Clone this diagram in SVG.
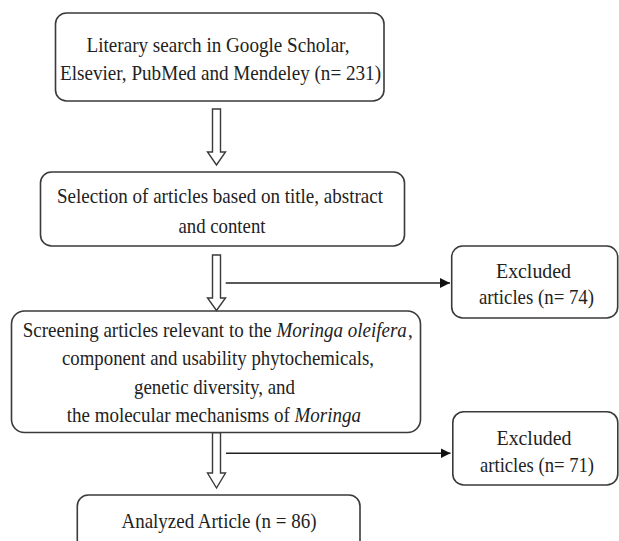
<svg xmlns="http://www.w3.org/2000/svg" width="619" height="541" viewBox="0 0 619 541">
<defs>
<style>
.box{fill:#fff;stroke:#3a3a3a;stroke-width:1.6}
.t{font-family:"Liberation Serif","Times New Roman",serif;font-size:21px;fill:#222;text-anchor:middle}
.n{font-family:"Liberation Serif","Times New Roman",serif;font-size:19px;fill:#222;text-anchor:start}
.i{font-style:italic}
.conn{stroke:#222;stroke-width:1.6;fill:none}
.hollow{fill:#fff;stroke:#3a3a3a;stroke-width:1.4}
</style>
<marker id="ah" markerUnits="userSpaceOnUse" markerWidth="11" markerHeight="11" refX="10" refY="5" orient="auto">
<path d="M0,0 L10,5 L0,10 Z" fill="#111"/>
</marker>
</defs>
<rect width="619" height="541" fill="#fff"/>

<g id="search">
<rect class="box" x="55.5" y="13" width="328.5" height="88" rx="11"/>
<text class="t" x="218" y="51.5" textLength="263" lengthAdjust="spacingAndGlyphs">Literary search in Google Scholar,</text>
<text class="t" x="220.5" y="80" textLength="321" lengthAdjust="spacingAndGlyphs">Elsevier, PubMed and Mendeley (n= 231)</text>
</g>

<g id="selection">
<rect class="box" x="40.5" y="172" width="364" height="74" rx="11"/>
<text class="t" x="220" y="203" textLength="326" lengthAdjust="spacingAndGlyphs">Selection of articles based on title, abstract</text>
<text class="t" x="222" y="233" textLength="87" lengthAdjust="spacingAndGlyphs">and content</text>
</g>

<g id="excluded1">
<rect class="box" x="451.7" y="246" width="166" height="72" rx="11"/>
<text class="t" x="533.5" y="278" textLength="75" lengthAdjust="spacingAndGlyphs">Excluded</text>
<text class="t" x="536.5" y="304" textLength="115" lengthAdjust="spacingAndGlyphs">articles (n= 74)</text>
</g>

<g id="screening">
<rect class="box" x="11.5" y="311" width="409" height="121.5" rx="13"/>
<g transform="matrix(1,0,0,1.105,0,-35.4)">
<text class="n" x="22.7" y="337">Screening articles relevant to the</text>
<text class="n i" x="276.5" y="337">Moringa oleifera</text>
<text class="n" x="408" y="337">,</text>
</g>
<text class="t" x="218" y="365" textLength="312" lengthAdjust="spacingAndGlyphs">component and usability phytochemicals,</text>
<text class="t" x="214.5" y="393.5" textLength="161" lengthAdjust="spacingAndGlyphs">genetic diversity, and</text>
<g transform="matrix(1,0,0,1.105,0,-44.3)">
<text class="n" x="66.7" y="422">the molecular mechanisms of</text>
<text class="n i" x="294.5" y="422">Moringa</text>
</g>
</g>

<g id="excluded2">
<rect class="box" x="452.8" y="411.7" width="165" height="73.3" rx="11"/>
<text class="t" x="534" y="445" textLength="75" lengthAdjust="spacingAndGlyphs">Excluded</text>
<text class="t" x="537" y="471.7" textLength="114" lengthAdjust="spacingAndGlyphs">articles (n= 71)</text>
</g>

<g id="analyzed">
<rect class="box" x="77.3" y="495" width="282.7" height="60" rx="11"/>
<text class="t" x="219" y="528.3" textLength="195" lengthAdjust="spacingAndGlyphs">Analyzed Article (n = 86)</text>
</g>

<g id="connectors">
<path class="hollow" d="M212.5,109 L220.5,109 L220.5,152 L225.5,152 L216.5,165 L207.5,152 L212.5,152 Z"/>
<path class="hollow" d="M212.5,255 L220.5,255 L220.5,298 L225.5,298 L216.5,310.5 L207.5,298 L212.5,298 Z"/>
<path class="hollow" d="M212.5,432.7 L220.5,432.7 L220.5,473 L225.5,473 L216.5,488 L207.5,473 L212.5,473 Z"/>
<line class="conn" x1="225.7" y1="283" x2="450" y2="283" marker-end="url(#ah)"/>
<line class="conn" x1="226" y1="453.3" x2="450.5" y2="453.3" marker-end="url(#ah)"/>
</g>
</svg>
